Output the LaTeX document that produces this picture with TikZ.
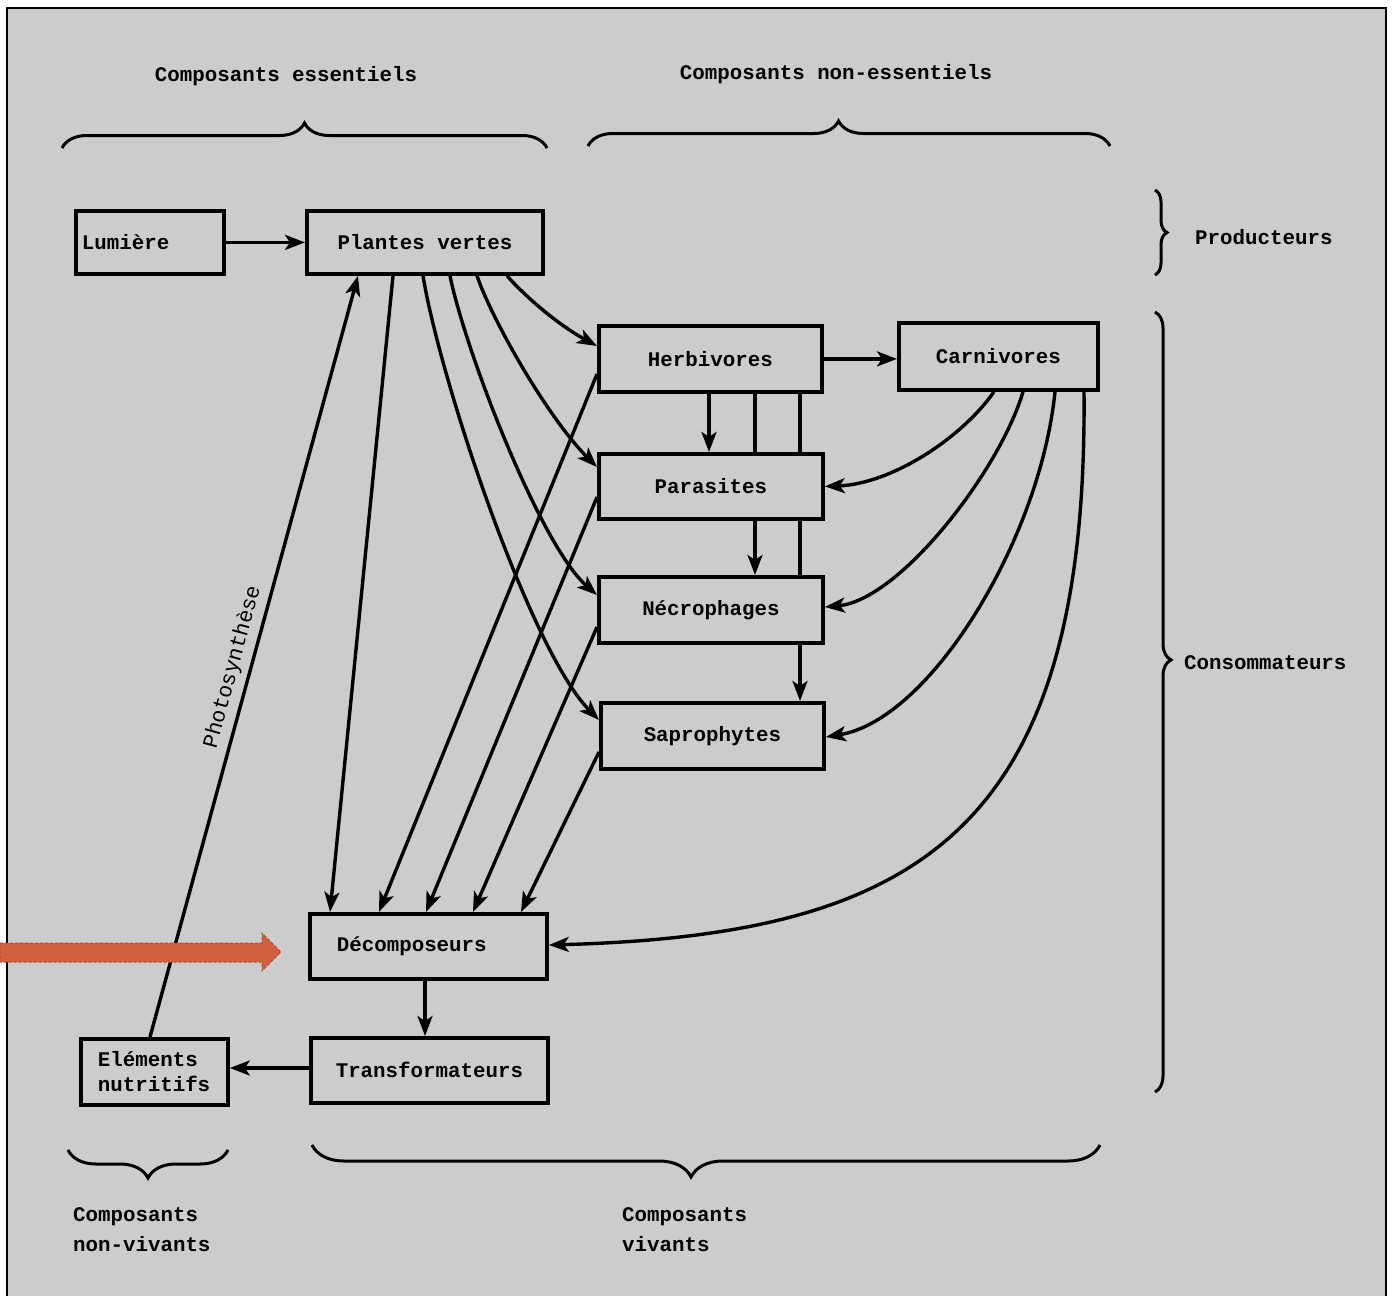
\documentclass[tikz,border=0pt]{standalone}
\usepackage{fontspec}
\setmainfont{Liberation Mono}
\usetikzlibrary{arrows.meta,decorations.pathreplacing,calc}
\definecolor{panelgray}{HTML}{CCCCCC}
\definecolor{hiarrow}{HTML}{D0603F}
\definecolor{hiarrowedge}{HTML}{B04A2E}
\newcommand{\diaglbl}{\bfseries\fontsize{20.8}{30}\selectfont}
\pgfdeclarelayer{panel}
\pgfdeclarelayer{under}
\pgfsetlayers{panel,under,main}
\begin{document}
\begin{tikzpicture}[x=1pt,y=1pt,
  box/.style={draw, line width=3.8pt, fill=panelgray, anchor=north west, inner sep=0pt, font=\diaglbl},
  arr/.style={line width=3.4pt, -{Stealth[length=20pt,width=15pt,inset=5pt]}},
  brc/.style={line width=3pt, decorate, decoration={brace, amplitude=#1}},
  lab/.style={font=\diaglbl, inner sep=0pt}
]
\useasboundingbox (0,0) rectangle (1393,-1296);
\begin{pgfonlayer}{panel}
  \fill[white] (0,0) rectangle (1393,-1296);
  \fill[panelgray] (7,-8) rectangle (1386,-1296);
  \draw[line width=2pt] (7,-1296) -- (7,-8) -- (1386,-8) -- (1386,-1296);
\end{pgfonlayer}

% boxes
\node[box, minimum width=148, minimum height=63, align=left, text width=136] (lum) at (74,-209) {Lumière};
\node[box, minimum width=236, minimum height=63] (plant) at (305,-209) {Plantes vertes};
\node[box, minimum width=223, minimum height=66] (herb) at (597,-324) {Herbivores};
\node[box, minimum width=199, minimum height=67] (carn) at (897,-321) {Carnivores};
\node[box, minimum width=224, minimum height=65] (para) at (597,-452) {Parasites};
\node[box, minimum width=224, minimum height=66] (necro) at (597,-575) {Nécrophages};
\node[box, minimum width=223, minimum height=66] (sapro) at (599,-701) {Saprophytes};
\node[box, minimum width=237, minimum height=65, align=left, text width=183] (decomp) at (308,-912) {Décomposeurs};
\node[box, minimum width=237, minimum height=65] (transf) at (309,-1036) {Transformateurs};
\node[box, minimum width=147, minimum height=66, align=left, text width=113, font=\bfseries\fontsize{20.8}{25}\selectfont] (elem) at (79,-1037) {Eléments\\nutritifs};

% connectors
\draw[arr] (lum) -- (plant);
\draw[arr] (herb.east) -- (carn.west |- herb.east);
\draw[arr] (plant.south -| 507,0) .. controls (522,-293) and (555,-323) .. (herb.west |- 0,-346);
\draw[arr] (plant.south -| 477,0) .. controls (492,-320) and (548,-418) .. (para.west |- 0,-467);
\draw[arr] (plant.south -| 450,0) .. controls (465,-350) and (540,-545) .. (necro.west |- 0,-595);
\draw[arr] (plant.south -| 423,0) .. controls (440,-380) and (530,-650) .. (sapro.west |- 0,-720);
\draw[arr] (plant.south -| 393,0) -- (decomp.north -| 330,0);
\draw[arr] (elem.north -| 150,0) -- node[sloped, pos=0.48, above=6pt, lab, font=\fontsize{21.5}{26}\selectfont] {Photosynthèse} (plant.south -| 358,0);

\draw[arr] (herb.west |- 0,-374) -- (decomp.north -| 379,0);
\draw[arr] (para.west |- 0,-497) -- (decomp.north -| 426,0);
\draw[arr] (necro.west |- 0,-627) -- (decomp.north -| 473,0);
\draw[arr] (sapro.west |- 0,-752) -- (decomp.north -| 521,0);

\draw[arr] (herb.south -| 709,0) -- (para.north -| 709,0);
\begin{pgfonlayer}{under}
\draw[arr] (herb.south -| 755,0) -- (necro.north -| 755,0);
\draw[arr] (herb.south -| 800,0) -- (sapro.north -| 800,0);
\end{pgfonlayer}

\draw[arr] (carn.south -| 994,0) .. controls (960,-440) and (890,-484) .. (para.east);
\draw[arr] (carn.south -| 1023,0) .. controls (1000,-470) and (900,-600) .. (necro.east |- 0,-607);
\draw[arr] (carn.south -| 1055,0) .. controls (1040,-540) and (930,-720) .. (sapro.east |- 0,-737);
\draw[arr] (carn.south -| 1084,0) .. controls (1088,-830) and (920,-935) .. (decomp.east |- 0,-945);

\draw[arr] (decomp.south -| 425,0) -- (transf.north -| 425,0);
\draw[arr] (transf.west |- 0,-1068) -- (elem.east |- 0,-1068);

% braces
\draw[brc=25] (62,-148) -- (547,-148);
\draw[brc=25, decoration={aspect=0.48}] (588,-146) -- (1110,-146);
\draw[brc=12] (1155,-190) -- (1155,-275);
\draw[brc=16, decoration={aspect=0.446}] (1155,-312) -- (1155,-1092);
\draw[brc=28] (228,-1150) -- (68,-1150);
\draw[brc=32, decoration={aspect=0.519}] (1100,-1145) -- (312,-1145);

% labels
\node[lab] (t1) at (286,-76) {Composants essentiels};
\node[lab] (t2) at (836,-74) {Composants non-essentiels};
\node[lab, anchor=west] (t3) at (1195,-237) {Producteurs};
\node[lab, anchor=west] (t4) at (1184,-663) {Consommateurs};
\node[lab, anchor=west, align=left] (t5) at (73,-1230) {Composants\\non-vivants};
\node[lab, anchor=west, align=left] (t6) at (622,-1230) {Composants\\vivants};

% highlight arrow
\filldraw[fill=hiarrow, draw=hiarrowedge, line width=1pt, dashed, dash pattern=on 3pt off 2pt]
  (0,-943) -- (262,-943) -- (262,-933) -- (281,-952) -- (262,-971) -- (262,-962) -- (0,-962) -- cycle;
\end{tikzpicture}
\end{document}
